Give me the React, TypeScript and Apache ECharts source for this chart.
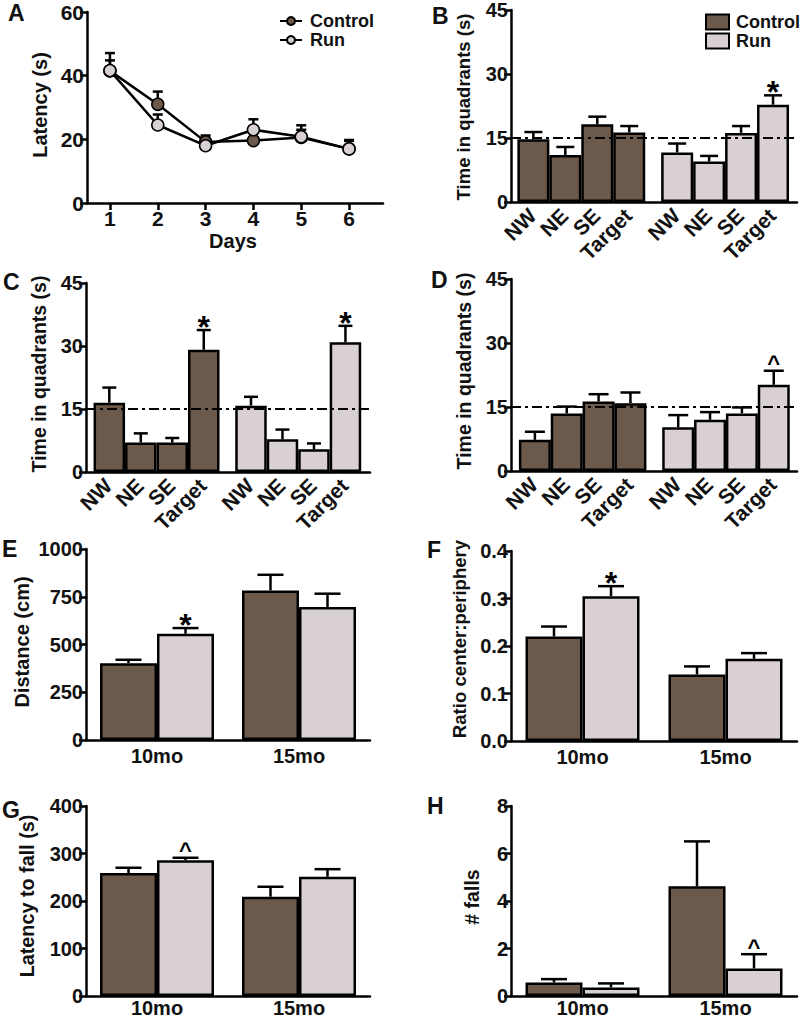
import React, { useEffect, useRef } from "react";
import * as echarts from "echarts";

const FONT = "'Liberation Sans', Arial, Helvetica, sans-serif";
const CONTROL_COLOR = "#6b5a4b";
const RUN_COLOR = "#d9d0d3";
const INK = "#111";

// ---------- Panel A : latency per day ----------
const DAYS = [1, 2, 3, 4, 5, 6];
const A_CONTROL = [41.5, 31.0, 19.2, 19.6, 20.6, 17.0];
const A_CONTROL_TOP = [44.8, 35.0, 21.2, 20.6, 24.4, 19.8];
const A_RUN = [41.6, 24.5, 18.0, 23.0, 20.8, 17.0];
const A_RUN_TOP = [47.1, 27.8, 20.0, 26.3, 23.0, 19.5];

// ---------- Panels B, C, D : time in quadrants ----------
const QUADRANTS = ["NW", "NE", "SE", "Target"];
const CONTROL_POS = [1, 2, 3, 4];
const RUN_POS = [5.5, 6.5, 7.5, 8.5];
const CHANCE_LEVEL = 15;

const B_CONTROL = [14.7, 11.0, 18.2, 16.3];
const B_CONTROL_TOP = [16.4, 12.9, 20.0, 17.8];
const B_CONTROL_SIG = ["", "", "", ""];
const B_RUN = [11.6, 9.5, 16.2, 22.8];
const B_RUN_TOP = [13.7, 10.8, 17.8, 25.0];
const B_RUN_SIG = ["", "", "", "*"];

const C_CONTROL = [16.5, 7.0, 7.0, 29.1];
const C_CONTROL_TOP = [20.1, 9.2, 8.1, 33.8];
const C_CONTROL_SIG = ["", "", "", "*"];
const C_RUN = [15.8, 7.8, 5.4, 30.9];
const C_RUN_TOP = [17.9, 10.1, 6.8, 34.8];
const C_RUN_SIG = ["", "", "", "*"];

const D_CONTROL = [7.3, 13.5, 16.3, 15.9];
const D_CONTROL_TOP = [9.2, 15.1, 18.0, 18.4];
const D_CONTROL_SIG = ["", "", "", ""];
const D_RUN = [10.25, 12.0, 13.5, 20.2];
const D_RUN_TOP = [13.1, 13.8, 14.9, 23.5];
const D_RUN_SIG = ["", "", "", "^"];

// ---------- Panels E, F, G, H : by age ----------
const AGES = ["10mo", "15mo"];
const E_CONTROL = [402, 783];
const E_CONTROL_TOP = [420, 865];
const E_RUN = [556, 696];
const E_RUN_TOP = [586, 766];
const E_RUN_SIG = ["*", ""];

const F_CONTROL = [0.22, 0.14];
const F_CONTROL_TOP = [0.241, 0.157];
const F_RUN = [0.305, 0.173];
const F_RUN_TOP = [0.326, 0.185];
const F_RUN_SIG = ["*", ""];

const G_CONTROL = [259, 209];
const G_CONTROL_TOP = [270, 230];
const G_RUN = [286, 251];
const G_RUN_TOP = [291, 267];
const G_RUN_SIG = ["^", ""];

const H_CONTROL = [0.57, 4.62];
const H_CONTROL_TOP = [0.71, 6.51];
const H_RUN = [0.36, 1.16];
const H_RUN_TOP = [0.53, 1.76];
const H_RUN_SIG = ["", "^"];

const NO_SIG2 = ["", ""];

const axisLineStyle = { color: "#000", width: 2.5 };

function yAxis(gi: number, max: number, interval: number, fmt?: (v: number) => string) {
  return {
    type: "value",
    gridIndex: gi,
    min: 0,
    max,
    interval,
    axisLine: { show: true, onZero: false, lineStyle: axisLineStyle },
    axisTick: { show: true, length: 7, lineStyle: axisLineStyle },
    axisLabel: {
      fontFamily: FONT,
      fontWeight: "bold",
      fontSize: 20,
      color: INK,
      margin: 3,
      formatter: fmt || ((v: number) => String(v)),
    },
    splitLine: { show: false },
  };
}

function errSeries(
  gi: number,
  data: number[][],
  sig: string[],
  capW: number,
  offset: number,
  z: number
) {
  return {
    type: "custom",
    xAxisIndex: gi,
    yAxisIndex: gi,
    z,
    silent: true,
    encode: { x: 0, y: [1, 2] },
    data,
    renderItem: (params: any, api: any) => {
      const x = api.value(0);
      const m = api.value(1);
      const t = api.value(2);
      const p0 = api.coord([x, m]);
      const p1 = api.coord([x, t]);
      const cx = p0[0] + offset;
      const s = { stroke: "#000", lineWidth: 2.5 };
      const children: any[] = [
        { type: "line", shape: { x1: cx, y1: p0[1], x2: cx, y2: p1[1] }, style: s },
        { type: "line", shape: { x1: cx - capW / 2, y1: p1[1], x2: cx + capW / 2, y2: p1[1] }, style: s },
      ];
      const lab = sig[params.dataIndex];
      if (lab) {
        const star = lab === "*";
        children.push({
          type: "text",
          x: cx,
          y: p1[1] - (star ? 3 : 7),
          style: {
            text: lab,
            fontFamily: FONT,
            fontWeight: "bold",
            fontSize: star ? 32 : 22,
            fill: "#000",
            align: "center",
            verticalAlign: "middle",
          },
        });
      }
      return { type: "group", children };
    },
  };
}

// rotated quadrant labels placed through the axis scale
function quadLabelSeries(gi: number, positions: number[], labels: string[]) {
  return {
    type: "custom",
    xAxisIndex: gi,
    yAxisIndex: gi,
    z: 4,
    silent: true,
    clip: false,
    encode: { x: 0, y: 1 },
    data: positions.map((x) => [x, 0]),
    renderItem: (params: any, api: any) => {
      const p = api.coord([api.value(0), 0]);
      return {
        type: "text",
        x: p[0] - 1,
        y: p[1] + 10,
        rotation: Math.PI / 4,
        style: {
          text: labels[params.dataIndex],
          fontFamily: FONT,
          fontWeight: "bold",
          fontSize: 21,
          fill: INK,
          align: "right",
          verticalAlign: "middle",
        },
      };
    },
  };
}

function barStyle(color: string) {
  return { color, borderColor: "#000", borderWidth: 2.5 };
}

function titleText(text: string, x: number, y: number, size: number) {
  return {
    type: "text",
    x,
    y,
    rotation: Math.PI / 2,
    silent: true,
    style: {
      text,
      fontFamily: FONT,
      fontWeight: "bold",
      fontSize: size,
      fill: INK,
      align: "center",
      verticalAlign: "middle",
    },
  };
}

function letter(text: string, x: number, y: number) {
  return {
    type: "text",
    x,
    y,
    silent: true,
    style: {
      text,
      fontFamily: FONT,
      fontWeight: "bold",
      fontSize: 23,
      fill: INK,
      align: "left",
      verticalAlign: "middle",
    },
  };
}

function buildOption() {
  const grids: any[] = [
    { left: 87, top: 12, width: 296, height: 191 }, // A
    { left: 511, top: 10, width: 286, height: 192 }, // B
    { left: 86, top: 283, width: 284, height: 189 }, // C
    { left: 511, top: 279, width: 286, height: 192 }, // D
    { left: 86, top: 549, width: 284, height: 191 }, // E
    { left: 511, top: 551, width: 286, height: 190 }, // F
    { left: 86, top: 806, width: 284, height: 190 }, // G
    { left: 511, top: 806, width: 286, height: 190 }, // H
  ].map((g) => ({ ...g, containLabel: false, outerBoundsMode: "none" }));

  const quadX = (gi: number, min: number, max: number) => ({
    type: "value",
    gridIndex: gi,
    min,
    max,
    axisLine: { show: true, onZero: false, lineStyle: axisLineStyle },
    axisTick: { show: false },
    splitLine: { show: false },
    axisLabel: { show: false },
  });

  const ageX = (gi: number, margin: number) => ({
    type: "category",
    gridIndex: gi,
    data: AGES,
    axisLine: { show: true, onZero: false, lineStyle: axisLineStyle },
    axisTick: { show: false },
    axisLabel: {
      margin,
      fontFamily: FONT,
      fontWeight: "bold",
      fontSize: 20,
      color: INK,
    },
  });

  const xAxes: any[] = [
    {
      type: "value",
      gridIndex: 0,
      min: 0.52,
      max: 6.71,
      axisLine: { show: true, onZero: false, lineStyle: axisLineStyle },
      axisTick: { show: true, length: 7, lineStyle: axisLineStyle, customValues: DAYS },
      axisLabel: {
        customValues: DAYS,
        margin: 5,
        fontFamily: FONT,
        fontWeight: "bold",
        fontSize: 21,
        color: INK,
      },
      splitLine: { show: false },
    },
    quadX(1, 0.3, 9.25),
    quadX(2, 0.26, 9.28),
    quadX(3, 0.25, 9.23),
    ageX(4, 6),
    ageX(5, 6),
    ageX(6, 2),
    ageX(7, 2),
  ];

  const yAxes: any[] = [
    yAxis(0, 60, 20),
    yAxis(1, 45, 15),
    yAxis(2, 45, 15),
    yAxis(3, 45, 15),
    yAxis(4, 1000, 250),
    yAxis(5, 0.4, 0.1, (v: number) => v.toFixed(1)),
    yAxis(6, 400, 100),
    yAxis(7, 8, 2),
  ];
  yAxes[0].axisLabel.fontSize = 21;

  const series: any[] = [];

  // Panel A
  series.push(
    errSeries(0, DAYS.map((d, i) => [d, A_CONTROL[i], A_CONTROL_TOP[i]]), [], 10, 0, 1),
    errSeries(0, DAYS.map((d, i) => [d, A_RUN[i], A_RUN_TOP[i]]), [], 10, 0, 1),
    {
      name: "Control",
      type: "line",
      xAxisIndex: 0,
      yAxisIndex: 0,
      z: 2,
      data: DAYS.map((d, i) => [d, A_CONTROL[i]]),
      symbol: "circle",
      symbolSize: 12,
      lineStyle: { color: "#000", width: 2.5 },
      itemStyle: { color: CONTROL_COLOR, borderColor: "#000", borderWidth: 1.5 },
    },
    {
      name: "Run",
      type: "line",
      xAxisIndex: 0,
      yAxisIndex: 0,
      z: 2,
      data: DAYS.map((d, i) => [d, A_RUN[i]]),
      symbol: "circle",
      symbolSize: 12,
      lineStyle: { color: "#000", width: 2.5 },
      itemStyle: { color: RUN_COLOR, borderColor: "#000", borderWidth: 1.5 },
    }
  );

  // Panels B, C, D
  const quadPanels = [
    { gi: 1, names: ["Control ", "Run "], ctrl: B_CONTROL, ctrlTop: B_CONTROL_TOP, ctrlSig: B_CONTROL_SIG, run: B_RUN, runTop: B_RUN_TOP, runSig: B_RUN_SIG, barW: 32, capW: 18 },
    { gi: 2, names: ["C Control", "C Run"], ctrl: C_CONTROL, ctrlTop: C_CONTROL_TOP, ctrlSig: C_CONTROL_SIG, run: C_RUN, runTop: C_RUN_TOP, runSig: C_RUN_SIG, barW: 31.5, capW: 14 },
    { gi: 3, names: ["D Control", "D Run"], ctrl: D_CONTROL, ctrlTop: D_CONTROL_TOP, ctrlSig: D_CONTROL_SIG, run: D_RUN, runTop: D_RUN_TOP, runSig: D_RUN_SIG, barW: 32, capW: 20 },
  ];
  quadPanels.forEach((p) => {
    series.push(
      {
        name: p.names[0],
        type: "bar",
        xAxisIndex: p.gi,
        yAxisIndex: p.gi,
        barWidth: p.barW,
        data: CONTROL_POS.map((x, i) => [x, p.ctrl[i]]),
        itemStyle: barStyle(CONTROL_COLOR),
        markLine: {
          silent: true,
          symbol: "none",
          z: 5,
          label: { show: false },
          lineStyle: { color: "#000", width: 2, type: [10, 4, 3, 4] },
          data: [{ yAxis: CHANCE_LEVEL }],
        },
      },
      {
        name: p.names[1],
        type: "bar",
        xAxisIndex: p.gi,
        yAxisIndex: p.gi,
        barWidth: p.barW,
        barGap: "-100%",
        data: RUN_POS.map((x, i) => [x, p.run[i]]),
        itemStyle: barStyle(RUN_COLOR),
      },
      errSeries(p.gi, CONTROL_POS.map((x, i) => [x, p.ctrl[i], p.ctrlTop[i]]), p.ctrlSig, p.capW, 0, 3),
      errSeries(p.gi, RUN_POS.map((x, i) => [x, p.run[i], p.runTop[i]]), p.runSig, p.capW, 0, 3),
      quadLabelSeries(p.gi, [...CONTROL_POS, ...RUN_POS], [...QUADRANTS, ...QUADRANTS])
    );
  });

  // Panels E, F, G, H
  const agePanels = [
    { gi: 4, key: "E", ctrl: E_CONTROL, ctrlTop: E_CONTROL_TOP, ctrlSig: NO_SIG2, run: E_RUN, runTop: E_RUN_TOP, runSig: E_RUN_SIG },
    { gi: 5, key: "F", ctrl: F_CONTROL, ctrlTop: F_CONTROL_TOP, ctrlSig: NO_SIG2, run: F_RUN, runTop: F_RUN_TOP, runSig: F_RUN_SIG },
    { gi: 6, key: "G", ctrl: G_CONTROL, ctrlTop: G_CONTROL_TOP, ctrlSig: NO_SIG2, run: G_RUN, runTop: G_RUN_TOP, runSig: G_RUN_SIG },
    { gi: 7, key: "H", ctrl: H_CONTROL, ctrlTop: H_CONTROL_TOP, ctrlSig: NO_SIG2, run: H_RUN, runTop: H_RUN_TOP, runSig: H_RUN_SIG },
  ];
  const AGE_BAR_W = 57;
  agePanels.forEach((p) => {
    series.push(
      {
        name: p.key + " Control",
        type: "bar",
        xAxisIndex: p.gi,
        yAxisIndex: p.gi,
        barWidth: AGE_BAR_W,
        barGap: "0%",
        data: p.ctrl,
        itemStyle: barStyle(CONTROL_COLOR),
      },
      {
        name: p.key + " Run",
        type: "bar",
        xAxisIndex: p.gi,
        yAxisIndex: p.gi,
        barWidth: AGE_BAR_W,
        barGap: "0%",
        data: p.run,
        itemStyle: barStyle(RUN_COLOR),
      },
      errSeries(p.gi, AGES.map((_, i) => [i, p.ctrl[i], p.ctrlTop[i]]), p.ctrlSig, 26, -AGE_BAR_W / 2, 3),
      errSeries(p.gi, AGES.map((_, i) => [i, p.run[i], p.runTop[i]]), p.runSig, 26, AGE_BAR_W / 2, 3)
    );
  });

  const legendText = {
    fontFamily: FONT,
    fontWeight: "bold",
    fontSize: 18,
    lineHeight: 18,
    color: INK,
  };

  const legends: any[] = [
    {
      left: 274,
      top: 7,
      orient: "vertical",
      selectedMode: false,
      data: ["Control", "Run"],
      itemWidth: 22,
      itemHeight: 10,
      itemGap: 1,
      textStyle: { ...legendText, padding: [0, 0, 0, 3] },
    },
    {
      left: 700,
      top: 8,
      orient: "vertical",
      selectedMode: false,
      data: ["Control ", "Run "],
      icon: "rect",
      itemWidth: 23,
      itemHeight: 15,
      itemGap: 1,
      formatter: (n: string) => n.trim(),
      textStyle: { ...legendText, padding: [0, 0, 0, 2] },
    },
  ];

  const graphic: any[] = [
    letter("A", 8, 13),
    letter("B", 432, 16),
    letter("C", 3, 282),
    letter("D", 431, 280),
    letter("E", 2, 549),
    letter("F", 427, 550),
    letter("G", 2, 810),
    letter("H", 427, 806),
    titleText("Latency (s)", 40, 105, 20),
    titleText("Time in quadrants (s)", 463, 107, 18.5),
    titleText("Time in quadrants (s)", 39, 374, 19.5),
    titleText("Time in quadrants (s)", 464, 371, 19.5),
    titleText("Distance (cm)", 22, 642, 20),
    titleText("Ratio center:periphery", 459, 639, 18.6),
    titleText("Latency to fall (s)", 27, 896, 19.8),
    titleText("# falls", 472, 897, 19.5),
    {
      type: "text",
      x: 233,
      y: 241,
      silent: true,
      style: {
        text: "Days",
        fontFamily: FONT,
        fontWeight: "bold",
        fontSize: 20,
        fill: INK,
        align: "center",
        verticalAlign: "middle",
      },
    },
  ];

  return {
    animation: false,
    backgroundColor: "#fff",
    grid: grids,
    xAxis: xAxes,
    yAxis: yAxes,
    legend: legends,
    series,
    graphic,
  };
}

export default function App() {
  const ref = useRef<HTMLDivElement>(null);
  useEffect(() => {
    if (!ref.current) return;
    const chart = echarts.init(ref.current, undefined, { renderer: "svg" });
    chart.setOption(buildOption() as any);
    return () => chart.dispose();
  }, []);
  return (
    <div
      ref={ref}
      style={{ position: "absolute", left: 0, top: 0, width: 800, height: 1019, background: "#fff" }}
    />
  );
}
